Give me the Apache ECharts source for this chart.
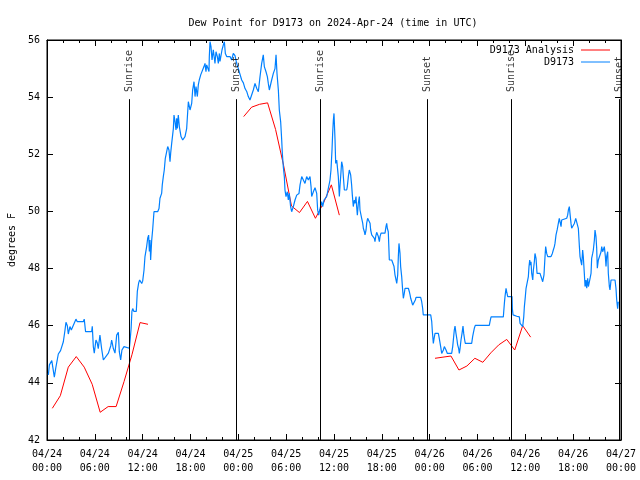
<!DOCTYPE html>
<html><head><meta charset="utf-8">
<script src="https://cdn.jsdelivr.net/npm/echarts/dist/echarts.min.js"></script>
<style>html,body{margin:0;padding:0;background:#fff}#c{width:640px;height:480px}</style>
</head><body><div id="c"></div>
<script>
const FONT = '"DejaVu Sans Mono", "Liberation Mono", monospace';
const titleText = 'Dew Point for D9173 on 2024-Apr-24 (time in UTC)';
const yAxisName = 'degrees F';
const xTickLabels = ['04/24\n00:00','04/24\n06:00','04/24\n12:00','04/24\n18:00','04/25\n00:00','04/25\n06:00','04/25\n12:00','04/25\n18:00','04/26\n00:00','04/26\n06:00','04/26\n12:00','04/26\n18:00','04/27\n00:00'];
const yTickValues = [42,44,46,48,50,52,54,56];
const sunNames = ['Sunrise','Sunset','Sunrise','Sunset','Sunrise','Sunset'];
const sunHours = [10.32, 23.72, 34.28, 47.73, 58.26, 71.75];
const legendNames = ['D9173 Analysis','D9173'];

// hours since 2024-04-24 00:00 UTC, dew point F
const analysisHours1 = [0.67,1.67,2.67,3.67,4.67,5.67,6.67,7.67,8.67,9.67,10.67,11.67,12.67];
const analysisValues1 = [43.11,43.55,44.55,44.92,44.55,43.95,42.97,43.17,43.17,44.05,45.0,46.11,46.05];
const analysisHours2 = [24.67,25.67,26.67,27.67,28.67,29.67,30.67,31.67,32.67,33.67,34.67,35.67,36.67];
const analysisValues2 = [53.32,53.65,53.75,53.8,52.87,51.62,50.19,49.96,50.35,49.76,50.29,50.93,49.87];
const analysisHours3 = [48.67,49.67,50.67,51.67,52.67,53.67,54.67,55.67,56.67,57.67,58.67,59.67,60.67];
const analysisValues3 = [44.86,44.9,44.94,44.45,44.59,44.86,44.72,45.05,45.33,45.52,45.15,46.0,45.6];

const obsD9173 = [[0.17,44.28],[0.3,44.63],[0.6,44.78],[0.75,44.75],[0.92,44.2],[1.1,44.52],[1.42,45.01],[1.7,45.13],[2.05,45.44],[2.26,45.85],[2.38,46.12],[2.55,46.0],[2.67,45.71],[2.88,45.97],[3.05,45.85],[3.3,45.8],[3.63,46.23],[3.8,46.14],[4.55,46.14],[4.67,46.23],[4.84,45.79],[5.6,45.79],[5.68,45.98],[5.81,45.27],[5.93,45.04],[6.14,45.5],[6.3,45.4],[6.43,45.2],[6.64,45.67],[6.85,45.2],[7.07,44.8],[7.32,44.8],[7.7,45.04],[8.0,45.3],[8.11,45.5],[8.32,45.2],[8.53,45.04],[8.74,45.67],[8.95,45.77],[9.07,45.09],[9.24,44.8],[9.4,45.15],[9.66,45.27],[9.91,45.21],[10.33,45.21],[10.41,45.44],[10.55,45.9],[10.65,46.5],[10.75,46.6],[10.9,46.5],[11.2,46.5],[11.33,47.2],[11.5,47.5],[11.62,47.6],[11.75,47.56],[11.88,47.48],[12.0,47.56],[12.17,47.95],[12.29,48.42],[12.5,48.77],[12.63,49.06],[12.75,49.17],[12.84,48.6],[12.92,49.0],[13.0,48.3],[13.13,48.98],[13.25,49.35],[13.42,49.99],[13.88,49.99],[14.05,50.1],[14.17,50.46],[14.38,50.63],[14.46,50.93],[14.59,51.22],[14.71,51.45],[14.84,51.86],[15.01,51.92],[15.14,52.27],[15.3,52.15],[15.43,51.74],[15.51,52.03],[15.64,52.38],[15.76,52.33],[15.85,52.9],[15.93,53.37],[16.06,53.14],[16.18,52.85],[16.27,53.26],[16.35,52.9],[16.47,53.37],[16.6,52.97],[16.81,52.62],[17.02,52.5],[17.31,52.62],[17.52,52.9],[17.65,53.49],[17.73,53.84],[17.94,53.55],[18.15,53.78],[18.27,54.25],[18.44,54.54],[18.57,54.02],[18.69,54.37],[18.86,54.02],[18.98,54.43],[19.1,54.6],[19.28,54.78],[19.53,54.83],[19.69,55.07],[19.82,55.18],[19.94,54.89],[20.03,55.13],[20.15,55.18],[20.32,54.9],[20.36,55.42],[20.45,55.94],[20.57,55.77],[20.7,55.3],[20.86,55.66],[21.07,55.18],[21.2,55.59],[21.37,55.42],[21.49,55.18],[21.62,55.53],[21.7,55.25],[21.83,55.18],[21.95,55.65],[22.12,55.83],[22.25,55.94],[22.37,55.53],[22.54,55.42],[22.96,55.42],[23.16,55.3],[23.37,55.53],[23.58,55.45],[23.79,55.18],[24.0,55.0],[24.21,54.95],[24.42,54.6],[24.63,54.5],[24.84,54.3],[25.05,54.2],[25.25,54.02],[25.46,53.9],[25.67,53.96],[25.88,54.25],[26.09,54.48],[26.3,54.31],[26.51,54.19],[26.72,54.72],[26.93,55.18],[27.13,55.48],[27.26,55.07],[27.47,54.89],[27.64,54.72],[27.76,54.48],[27.89,54.25],[28.06,54.31],[28.18,54.6],[28.39,54.83],[28.6,55.0],[28.73,55.48],[28.85,54.83],[29.02,54.25],[29.14,53.55],[29.31,53.14],[29.44,52.5],[29.52,52.03],[29.64,51.57],[29.77,51.22],[29.85,50.75],[29.98,50.52],[30.14,50.69],[30.27,50.4],[30.39,50.63],[30.56,50.17],[30.69,49.99],[30.9,50.17],[31.11,50.4],[31.32,50.57],[31.61,50.63],[31.74,50.93],[31.95,51.22],[32.15,51.16],[32.36,50.98],[32.57,51.22],[32.78,51.1],[32.99,51.22],[33.12,50.87],[33.2,50.52],[33.41,50.69],[33.62,50.83],[33.83,50.63],[33.95,50.05],[34.08,49.87],[34.25,50.1],[34.46,50.34],[34.58,50.17],[34.75,50.4],[34.96,50.4],[35.08,50.52],[35.29,50.52],[35.5,51.1],[35.62,51.45],[35.75,52.15],[35.83,52.73],[35.92,53.2],[36.0,53.43],[36.13,52.5],[36.21,51.68],[36.34,51.8],[36.42,51.57],[36.54,51.22],[36.67,50.52],[36.75,50.87],[36.88,51.4],[36.96,51.74],[37.09,51.57],[37.17,51.22],[37.3,50.75],[37.59,50.75],[37.67,50.87],[37.8,51.22],[37.92,51.45],[38.09,51.28],[38.21,50.93],[38.3,50.57],[38.42,50.17],[38.55,50.4],[38.63,50.28],[38.76,50.52],[38.84,50.17],[38.93,49.87],[39.05,50.28],[39.18,50.52],[39.26,50.05],[39.39,50.05],[39.47,49.76],[39.6,49.59],[39.68,49.41],[39.81,49.29],[39.89,49.18],[40.02,49.35],[40.1,49.59],[40.22,49.76],[40.43,49.76],[40.52,49.59],[40.6,49.35],[40.73,49.18],[40.94,49.12],[41.06,49.06],[41.14,48.94],[41.23,49.12],[41.35,49.27],[41.48,49.29],[41.56,49.12],[41.69,48.94],[41.77,49.12],[41.9,49.24],[42.4,49.24],[42.52,49.47],[42.61,49.58],[42.69,49.41],[42.81,49.29],[42.94,48.3],[43.24,48.3],[43.44,48.25],[43.53,48.07],[43.65,47.78],[43.78,47.72],[43.87,47.48],[43.99,47.78],[44.07,48.42],[44.15,48.88],[44.28,48.53],[44.36,48.07],[44.49,47.72],[44.61,47.25],[44.7,46.96],[44.82,47.14],[44.91,47.31],[45.33,47.31],[45.45,47.19],[45.54,47.08],[45.62,46.96],[45.75,46.84],[45.87,46.72],[45.95,46.67],[46.08,46.78],[46.2,46.9],[46.29,46.99],[46.87,46.99],[47.0,46.84],[47.12,46.61],[47.2,46.38],[48.13,46.38],[48.26,46.14],[48.34,45.79],[48.46,45.38],[48.55,45.55],[48.67,45.73],[49.09,45.73],[49.21,45.55],[49.26,45.5],[49.38,45.27],[49.51,45.03],[49.63,45.03],[49.72,45.15],[49.84,45.27],[49.97,45.33],[50.05,45.15],[50.22,45.03],[50.76,45.03],[50.89,45.27],[50.97,45.5],[51.09,45.85],[51.18,45.99],[51.3,45.73],[51.43,45.5],[51.51,45.33],[51.64,45.2],[51.72,45.03],[51.81,45.2],[51.93,45.5],[52.06,45.73],[52.18,45.99],[52.27,45.73],[52.39,45.5],[52.47,45.38],[53.27,45.38],[53.39,45.62],[53.47,45.73],[53.6,45.91],[53.72,46.01],[55.48,46.01],[55.57,46.14],[55.7,46.31],[57.24,46.31],[57.37,46.78],[57.45,47.02],[57.58,47.31],[57.66,47.19],[57.79,47.02],[58.33,47.02],[58.37,46.6],[58.46,46.38],[58.92,46.33],[59.25,46.31],[59.34,46.08],[59.46,46.02],[59.67,45.97],[59.8,46.31],[59.88,46.67],[60.0,47.02],[60.09,47.31],[60.25,47.31],[60.38,47.72],[60.46,48.07],[60.55,48.3],[60.63,48.12],[60.71,48.24],[60.8,47.83],[60.93,47.6],[61.01,47.95],[61.13,48.24],[61.21,48.53],[61.34,48.36],[61.47,47.83],[61.84,47.83],[62.05,47.78],[62.18,47.54],[62.26,47.48],[62.34,47.78],[62.47,48.42],[62.55,48.77],[62.68,48.53],[62.81,48.42],[63.22,48.42],[63.39,48.53],[63.51,48.65],[63.64,48.77],[63.72,48.88],[63.85,49.18],[64.01,49.38],[64.14,49.58],[64.26,49.76],[64.35,49.64],[64.48,49.47],[64.56,49.7],[64.69,49.76],[65.19,49.76],[65.31,49.87],[65.4,50.05],[65.52,50.17],[65.6,49.93],[65.73,49.58],[65.81,49.41],[66.02,49.41],[66.15,49.58],[66.32,49.76],[66.53,49.76],[66.65,49.41],[66.78,48.77],[66.86,48.42],[66.98,48.24],[67.07,48.12],[67.19,48.65],[67.27,48.42],[67.4,47.83],[67.49,47.37],[67.61,47.6],[67.7,47.31],[67.82,47.66],[67.91,47.37],[68.03,47.31],[68.12,47.66],[68.24,47.83],[68.32,48.36],[68.45,48.53],[68.53,48.65],[68.66,49.0],[68.74,49.35],[68.86,49.12],[68.95,48.71],[69.03,48.01],[69.16,48.3],[69.37,48.36],[69.5,48.59],[69.58,48.77],[69.7,48.59],[69.78,48.53],[69.91,48.77],[70.04,48.42],[70.12,48.07],[70.2,48.42],[70.33,48.59],[70.41,47.83],[70.54,47.37],[70.62,47.25],[70.75,47.6],[71.25,47.6],[71.37,47.31],[71.46,46.9],[71.58,46.6],[71.66,46.84]];

const RED = '#ff0000', BLUE = '#0080ff';
const zip = (h, v) => h.map((x, i) => [x, v[i]]);
const txt = {fontFamily: FONT, fontSize: 10, color: '#000'};

function xAxisCfg(pos, showLabel) {
  return {
    type: 'value', position: pos, min: 0, max: 72, interval: 6,
    axisLine: {show: true, onZero: false, lineStyle: {color: '#000', width: 1}},
    axisTick: {show: true, inside: true, length: 6, lineStyle: {color: '#000'}},
    minorTick: {show: true, splitNumber: 3, length: 3, lineStyle: {color: '#000'}},
    splitLine: {show: false}, minorSplitLine: {show: false},
    axisLabel: Object.assign({show: showLabel, margin: 7, lineHeight: 14,
      formatter: v => xTickLabels[Math.round(v / 6)]}, txt)
  };
}
function yAxisCfg(pos, showLabel) {
  const c = {
    type: 'value', position: pos, min: yTickValues[0], max: yTickValues[yTickValues.length - 1], interval: 2,
    axisLine: {show: true, onZero: false, lineStyle: {color: '#000', width: 1}},
    axisTick: {show: true, inside: true, length: 6, lineStyle: {color: '#000'}},
    splitLine: {show: false},
    axisLabel: Object.assign({show: showLabel, margin: 7}, txt)
  };
  if (showLabel) {
    c.name = yAxisName; c.nameLocation = 'middle'; c.nameGap = 30; c.nameRotate = 90;
    c.nameTextStyle = Object.assign({}, txt);
  }
  return c;
}

const chart = echarts.init(document.getElementById('c'), null, {renderer: 'canvas'});
const analysisSeries = [zip(analysisHours1, analysisValues1), zip(analysisHours2, analysisValues2), zip(analysisHours3, analysisValues3)]
  .map((d, i) => ({
    name: legendNames[0], type: 'line', data: d, showSymbol: false, symbol: 'none',
    lineStyle: {color: RED, width: 1}, itemStyle: {color: RED}, z: 2, silent: true
  }));

chart.setOption({
  animation: false,
  backgroundColor: '#fff',
  title: {text: titleText, left: 328, top: 13, textAlign: 'center',
    textStyle: {fontFamily: FONT, fontSize: 10, fontWeight: 'normal', color: '#000'}},
  grid: {left: 47, right: 19, top: 40, bottom: 40, show: true, borderColor: '#000', borderWidth: 1,
    containLabel: false, outerBoundsMode: 'none'},
  xAxis: [xAxisCfg('bottom', true), xAxisCfg('top', false)],
  yAxis: [yAxisCfg('left', true), yAxisCfg('right', false)],
  series: analysisSeries.concat([
    {name: legendNames[1], type: 'line', data: obsD9173, showSymbol: false, symbol: 'none',
      lineStyle: {color: BLUE, width: 1.2}, itemStyle: {color: BLUE}, z: 3, silent: true},
    {name: 'sun', type: 'scatter', symbolSize: 0, silent: true, z: 4,
      data: sunHours.map(h => [h, 54.18]),
      label: {show: true, position: [0, 0], rotate: 90, align: 'left', verticalAlign: 'middle',
        fontFamily: FONT, fontSize: 10, color: '#000', formatter: p => sunNames[p.dataIndex]},
      markLine: {silent: true, symbol: ['none', 'none'], animation: false,
        lineStyle: {color: '#000', width: 1, type: 'solid'}, label: {show: false},
        data: sunHours.map(h => [{coord: [h, 53.93]}, {coord: [h, 42]}])}
    }
  ]),
  graphic: [
    {type: 'text', right: 640 - 574, top: 45, style: {text: legendNames[0], fill: '#000', font: '10px ' + FONT}},
    {type: 'line', shape: {x1: 581, y1: 50, x2: 610, y2: 50}, style: {stroke: RED, lineWidth: 1}},
    {type: 'text', right: 640 - 574, top: 57, style: {text: legendNames[1], fill: '#000', font: '10px ' + FONT}},
    {type: 'line', shape: {x1: 581, y1: 62, x2: 610, y2: 62}, style: {stroke: BLUE, lineWidth: 1}}
  ]
});
</script></body></html>
